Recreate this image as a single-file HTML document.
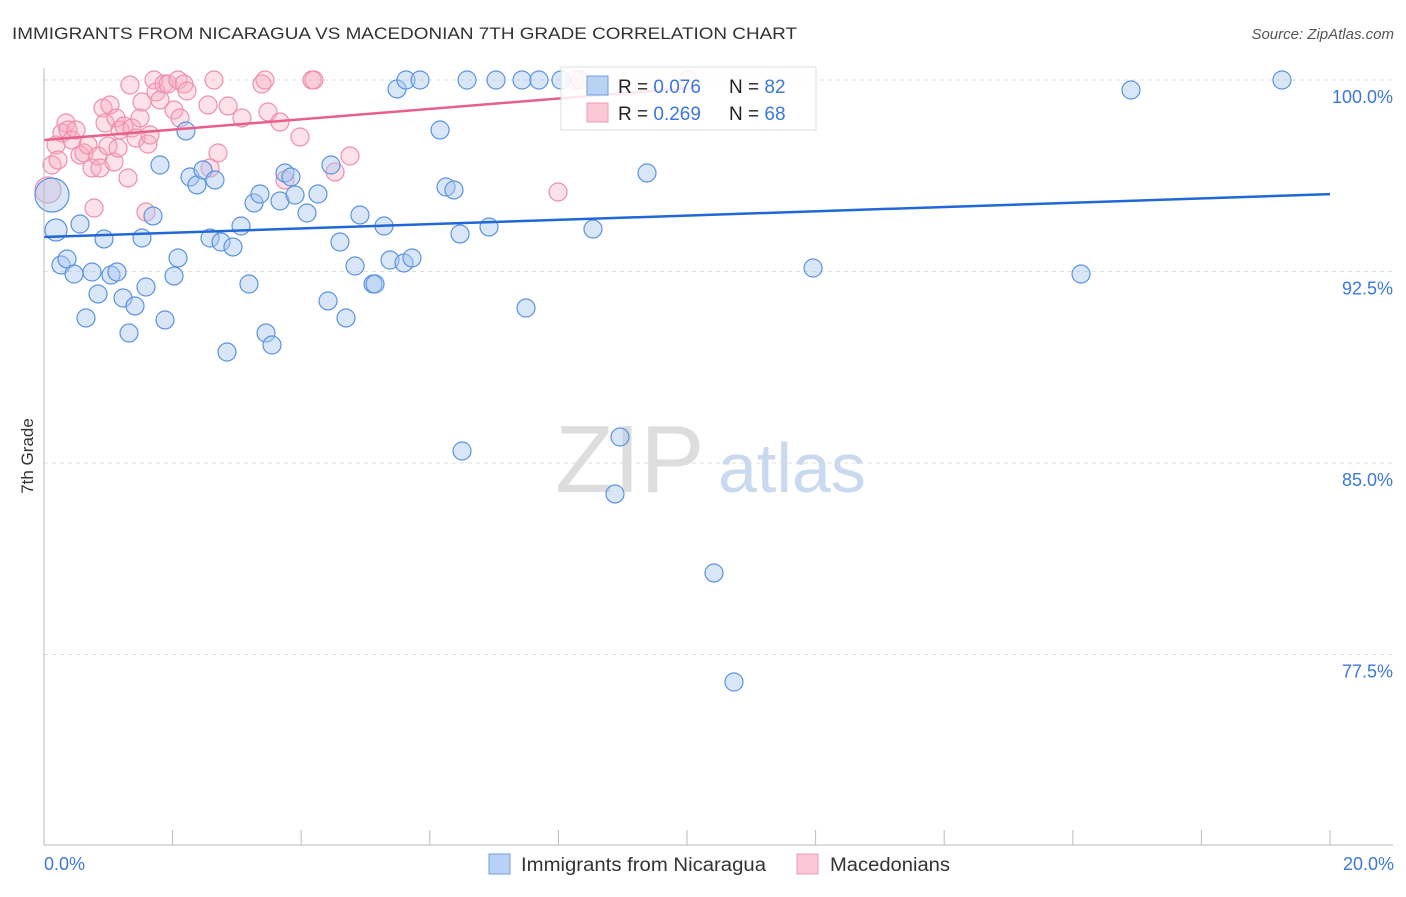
<!DOCTYPE html>
<html><head><meta charset="utf-8"><style>
body{margin:0;background:#fff;font-family:"Liberation Sans",sans-serif}
svg text{font-family:"Liberation Sans",sans-serif}
</style></head><body>
<svg id="c" width="1406" height="892">
<text x="12" y="39" font-size="17" fill="#333" textLength="785" lengthAdjust="spacingAndGlyphs">IMMIGRANTS FROM NICARAGUA VS MACEDONIAN 7TH GRADE CORRELATION CHART</text>
<text x="1394" y="39" font-size="15" fill="#555" font-style="italic" text-anchor="end">Source: ZipAtlas.com</text>
<text x="33" y="456" font-size="17" fill="#333" text-anchor="middle" transform="rotate(-90 33 456)">7th Grade</text>
<g id="grid"></g>
<text x="555" y="492" font-size="96" fill="#ddd" font-family="Liberation Serif">ZIP</text>
<text x="718" y="492" font-size="70" fill="#c9daf0">atlas</text>
<g id="marks"></g>
<line x1="44" y1="68" x2="44" y2="845" stroke="#bbb"/>
<line x1="44" y1="845" x2="1393" y2="845" stroke="#bbb"/>
<g id="ticks"></g>
<text x="44" y="870" font-size="18" fill="#3b78d8">0.0%</text>
<text x="1394" y="870" font-size="18" fill="#3b78d8" text-anchor="end">20.0%</text>
<g>
<rect x="561" y="67" width="255" height="63" fill="#fff" fill-opacity="0.85" stroke="#ddd"/>
<rect x="587" y="76" width="21" height="19" fill="#b8d2f4" stroke="#6f9de0"/>
<rect x="587" y="103" width="21" height="19" fill="#fac8d6" stroke="#ee9ab5"/>
<text x="618" y="93" font-size="19" fill="#222">R = <tspan fill="#3b78d8">0.076</tspan></text>
<text x="729" y="93" font-size="19" fill="#222">N = <tspan fill="#3b78d8">82</tspan></text>
<text x="618" y="120" font-size="19" fill="#222">R = <tspan fill="#3b78d8">0.269</tspan></text>
<text x="729" y="120" font-size="19" fill="#222">N = <tspan fill="#3b78d8">68</tspan></text>
</g>
<g>
<rect x="489" y="854" width="21" height="20" fill="#b8d2f4" stroke="#6f9de0"/>
<text x="521" y="871" font-size="19" fill="#333" textLength="245" lengthAdjust="spacingAndGlyphs">Immigrants from Nicaragua</text>
<rect x="797" y="854" width="21" height="20" fill="#fac8d6" stroke="#ee9ab5"/>
<text x="830" y="871" font-size="19" fill="#333" textLength="120" lengthAdjust="spacingAndGlyphs">Macedonians</text>
</g>
</svg>
<script>
const yTicks=[100,92.5,85,77.5];
const yTickLabels=["100.0%","92.5%","85.0%","77.5%"];
const xTicks=[0,2,4,6,8,10,12,14,16,18,20];
const bluePx=[[52,195],[56,230],[61,265],[67,259],[74,274],[80,224],[86,318],[92,272],[98,294],[104,239],[111,275],[117,272],[123,298],[129,333],[135,306],[142,238],[146,287],[153,216],[160,165],[165,320],[174,276],[178,258],[186,131],[190,177],[197,185],[203,170],[210,238],[215,180],[221,242],[227,352],[233,247],[241,226],[249,284],[254,203],[260,194],[266,333],[272,345],[280,201],[285,173],[291,177],[295,195],[307,213],[318,194],[328,301],[331,165],[340,242],[346,318],[355,266],[360,215],[373,284],[375,284],[384,226],[390,260],[397,89],[404,263],[406,80],[412,258],[420,80],[440,130],[446,187],[454,190],[460,234],[462,451],[467,80],[489,227],[496,80],[522,80],[526,308],[539,80],[561,80],[593,229],[615,494],[620,437],[647,173],[714,573],[734,682],[813,268],[1081,274],[1131,90],[1282,80]];
const pinkPx=[[48,190],[52,165],[56,145],[58,160],[62,133],[66,123],[68,130],[72,140],[76,130],[80,155],[84,153],[88,145],[92,168],[94,208],[98,156],[100,168],[103,108],[105,123],[108,146],[110,105],[114,162],[116,118],[118,148],[120,130],[124,126],[128,178],[130,85],[132,128],[136,138],[140,118],[142,102],[146,212],[148,144],[150,135],[154,80],[156,92],[160,100],[164,84],[168,84],[174,110],[178,80],[180,118],[184,84],[187,91],[208,105],[210,168],[214,80],[218,153],[228,106],[242,118],[262,84],[265,80],[268,112],[280,122],[285,180],[300,137],[312,80],[314,80],[335,172],[350,156],[558,192],[575,80],[580,80],[688,80]];
const blueX=bluePx.map(p=>+((p[0]-44)/1286*20).toFixed(3));
const blueY=bluePx.map(p=>+(100-(p[1]-80)/191.5*7.5).toFixed(3));
const pinkX=pinkPx.map(p=>+((p[0]-44)/1286*20).toFixed(3));
const pinkY=pinkPx.map(p=>+(100-(p[1]-80)/191.5*7.5).toFixed(3));
const blueTrend=[[0,93.85],[20,95.53]];
const pinkTrend=[[0,97.65],[10,99.68]];
const sx=v=>44+v/20*1286, sy=v=>80+(100-v)/7.5*191.5;
const NS="http://www.w3.org/2000/svg";
function mk(t,a,p){const e=document.createElementNS(NS,t);for(const k in a)e.setAttribute(k,a[k]);p.appendChild(e);return e;}
const grid=document.getElementById('grid'),marks=document.getElementById('marks'),ticks=document.getElementById('ticks');
yTicks.forEach((v,i)=>{
 const l=mk('line',{x1:44,x2:1393,y1:sy(v),y2:sy(v),stroke:'#ddd','stroke-dasharray':'4,4'},grid);
 
 
 const t=mk('text',{x:1393,y:sy(v)+23,'font-size':18,fill:'#3b78d8','text-anchor':'end'},grid);
 t.textContent=yTickLabels[i];
 
 
});
xTicks.forEach(v=>{
 const l=mk('line',{x1:sx(v),x2:sx(v),y1:830,y2:845,stroke:'#bbb'},ticks);
 
 
});
pinkX.forEach((x,i)=>{
 const c=mk('circle',{cx:sx(x),cy:sy(pinkY[i]),r:i==0?13:9,fill:'#f7a8c0','fill-opacity':0.35,stroke:'#ee8fae','stroke-width':1.2},marks);
 
 
});
blueX.forEach((x,i)=>{
 const c=mk('circle',{cx:sx(x),cy:sy(blueY[i]),r:i==0?17:(i==1?11:9),fill:'#a9c8f0','fill-opacity':0.45,stroke:'#5b93e0','stroke-width':1.2},marks);
 
 
});
const bl=mk('line',{x1:sx(blueTrend[0][0]),y1:sy(blueTrend[0][1]),x2:sx(blueTrend[1][0]),y2:sy(blueTrend[1][1]),stroke:'#2168d6','stroke-width':2.5},marks);


const pl=mk('line',{x1:sx(pinkTrend[0][0]),y1:sy(pinkTrend[0][1]),x2:sx(pinkTrend[1][0]),y2:sy(pinkTrend[1][1]),stroke:'#e8608a','stroke-width':2.5},marks);


</script>
</body></html>
